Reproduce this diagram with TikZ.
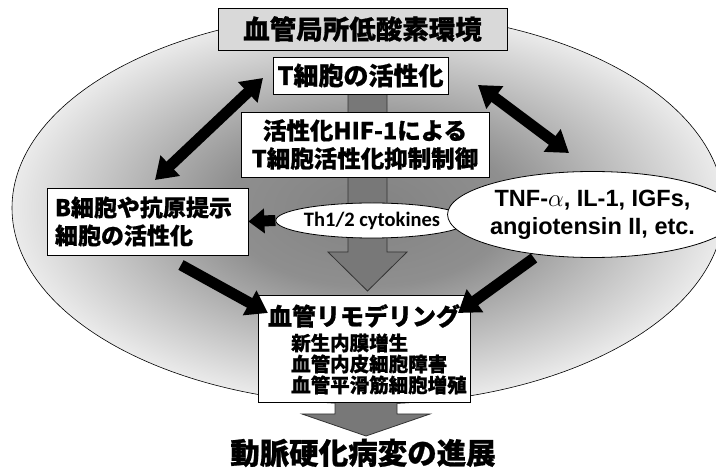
\documentclass[tikz,border=0pt]{standalone}
\usepackage{fontspec}
\usetikzlibrary{arrows.meta,shapes.geometric}
\newfontfamily\jp{Noto Sans CJK JP}[BoldFeatures={FakeBold=0.8}]
\newfontfamily\carl{Carlito}
\newfontfamily\lib{Liberation Sans}
\pgfdeclareradialshading{bgshade}{\pgfpoint{0bp}{0bp}}{color(0bp)=(black!49); color(10bp)=(black!44); color(25bp)=(black!8); color(50bp)=(black!8)}
\begin{document}
\begin{tikzpicture}[x=1pt,y=-1pt,
  box/.style={draw=black, line width=0.8pt, fill=white, inner sep=0pt},
  garrow/.style={fill=black!53, draw=black!80, line width=0.8pt},
  blk/.style={line width=11pt, black, -{Triangle[width=27pt,length=21pt]}},
  dblk/.style={line width=11pt, black, {Triangle[width=27pt,length=21pt]}-{Triangle[width=27pt,length=21pt]}},
  sblk/.style={line width=11pt, black, -{Triangle[width=24pt,length=16pt]}}
]
\useasboundingbox (0,0) rectangle (716,470);
\begin{scope}
  \clip (0,0) rectangle (716,470);
  \path[shading=bgshade, draw=black, line width=0.6pt] (368,208) ellipse [x radius=356, y radius=196];
\end{scope}

% grey arrows
\coordinate (gtop) at (367.5,94);
\coordinate (gbot) at (366,402);
\draw[garrow] ([xshift=-19.5pt]gtop) -- ([xshift=19.5pt]gtop) -- ++(0,158) -- ++(20,0) -- ++(-39.5,39) -- ++(-39.5,-39) -- ++(20,0) -- cycle;
\draw[garrow] ([xshift=-31pt]gbot) -- ([xshift=31pt]gbot) -- ++(0,12) -- ++(33,0) -- ++(-64,22) -- ++(-64,-22) -- ++(33,0) -- cycle;

% nodes
\node[box, fill=black!15, minimum width=289, minimum height=42, font=\jp\bfseries\fontsize{26.5}{30}\selectfont] (title) at (362.5,29) {血管局所低酸素環境};
\node[box, minimum width=175, minimum height=37, font=\jp\bfseries\fontsize{25}{28}\selectfont] (tcell) at (360.5,75.5) {T細胞の活性化};
\node[box, minimum width=248, minimum height=65, align=center, font=\jp\bfseries\fontsize{23.5}{28}\selectfont] (hif) at (365,144.5) {活性化HIF-1による\\T細胞活性化抑制制御};
\node[box, ellipse, minimum width=186, minimum height=35, font=\carl\bfseries\fontsize{20.5}{24}\selectfont] (th) at (372,220.5) {Th1/2 cytokines};
\node[box, minimum width=201, minimum height=67, text width=185, align=left, font=\jp\bfseries\fontsize{23}{28}\selectfont] (bcell) at (147.5,221.5) {B細胞や抗原提示\\細胞の活性化};
\node[box, ellipse, minimum width=245, minimum height=86, align=center, font=\lib\bfseries\fontsize{23.5}{28}\selectfont] (tnf) at (592.5,214.5) {TNF-$\alpha$, IL-1, IGFs,\\angiotensin II, etc.};
\node[box, minimum width=212, minimum height=107] (remodel) at (364,348.5) {};
\node[font=\jp\bfseries\fontsize{24}{26}\selectfont, inner sep=0pt] (remtitle) at (364,316) {血管リモデリング};
\node[anchor=west, align=left, inner sep=0pt, font=\jp\bfseries\fontsize{19.5}{21}\selectfont] (remlist) at (291,364) {新生内膜増生\\血管内皮細胞障害\\血管平滑筋細胞増殖};
\node[font=\jp\bfseries\fontsize{29.5}{32}\selectfont, inner sep=0pt] (result) at (363,453) {動脈硬化病変の進展};

% black arrows
\coordinate (l1) at (263,78);
\coordinate (l2) at (155,180);
\coordinate (r1) at (478,85);
\coordinate (r2) at (569,153);
\coordinate (b1) at (181,265);
\coordinate (b2) at (268,313);
\coordinate (t1) at (534,258);
\coordinate (t2) at (458,313);
\draw[dblk] (l1) -- (l2);
\draw[dblk] (r1) -- (r2);
\draw[blk] (b1) -- (b2);
\draw[blk] (t1) -- (t2);
\draw[sblk] (th.west) -- (bcell.east);
\end{tikzpicture}
\end{document}
